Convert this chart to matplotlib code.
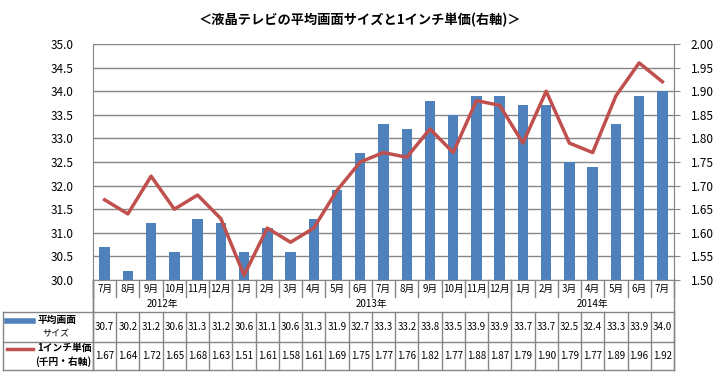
import numpy as np
import matplotlib.pyplot as plt
import matplotlib.transforms as mtransforms
from matplotlib.lines import Line2D

plt.rcParams['font.family'] = ['Noto Sans CJK JP', 'DejaVu Sans']

# dados
meses = ['7月', '8月', '9月', '10月', '11月', '12月',
         '1月', '2月', '3月', '4月', '5月', '6月', '7月', '8月', '9月', '10月', '11月', '12月',
         '1月', '2月', '3月', '4月', '5月', '6月', '7月']
anos = ['2012年', '2013年', '2014年']
meses_por_ano = [6, 12, 7]
tamanho = [30.7, 30.2, 31.2, 30.6, 31.3, 31.2, 30.6, 31.1, 30.6, 31.3, 31.9, 32.7,
           33.3, 33.2, 33.8, 33.5, 33.9, 33.9, 33.7, 33.7, 32.5, 32.4, 33.3, 33.9, 34.0]
preco = [1.67, 1.64, 1.72, 1.65, 1.68, 1.63, 1.51, 1.61, 1.58, 1.61, 1.69, 1.75,
         1.77, 1.76, 1.82, 1.77, 1.88, 1.87, 1.79, 1.90, 1.79, 1.77, 1.89, 1.96, 1.92]

azul = '#4F81BD'
vermelho = '#C0504D'
cinza = '#868686'

fig = plt.figure(figsize=(7.2, 3.88), dpi=100)
W, H = 720, 388
x0, x1, ytop, ybot = 93, 674, 44, 280
ax = fig.add_axes([x0 / W, (H - ybot) / H, (x1 - x0) / W, (ybot - ytop) / H])

x = np.arange(len(meses))
ax.bar(x, tamanho, width=0.45, color=azul, zorder=3)
ax.set_xlim(-0.5, len(meses) - 0.5)
ax.set_ylim(30.0, 35.0)
ax.set_yticks(np.arange(30.0, 35.01, 0.5))
ax.set_yticklabels([f'{v:.1f}' for v in np.arange(30.0, 35.01, 0.5)], fontsize=8.5)
ax.yaxis.grid(True, color=cinza, linewidth=1)
ax.set_axisbelow(True)
ax.set_xticks([])
ax.tick_params(axis='y', length=0, pad=14)
for s in ['top']:
    ax.spines[s].set_visible(False)
ax.spines['left'].set_color(cinza)
ax.spines['right'].set_color(cinza)
ax.spines['bottom'].set_color(cinza)

ax2 = ax.twinx()
ax2.plot(x, preco, color=vermelho, linewidth=2.5, zorder=4)
ax2.set_ylim(1.5, 2.0)
ax2.set_yticks(np.arange(1.5, 2.001, 0.05))
ax2.set_yticklabels([f'{v:.2f}' for v in np.arange(1.5, 2.001, 0.05)], fontsize=8.5)
ax2.tick_params(axis='y', length=4, color=cinza, pad=8)
for s in ['top', 'left', 'bottom']:
    ax2.spines[s].set_visible(False)
ax2.spines['right'].set_color(cinza)

# tabela abaixo do gráfico (x em dados, y em coordenadas do eixo)
trans = mtransforms.blended_transform_factory(ax.transData, ax.transAxes)
alt = ybot - ytop
def yy(py):
    return -(py - ybot) / alt

lk = dict(color=cinza, linewidth=1, transform=trans, clip_on=False)
# meses
for i, m in enumerate(meses):
    ax.text(i, yy(289), m, transform=trans, ha='center', va='center', fontsize=7)
for i in range(len(meses) + 1):
    ax.add_line(Line2D([i - 0.5, i - 0.5], [0, yy(297)], **lk))
# anos
ini = 0
for a, n in zip(anos, meses_por_ano):
    ax.text(ini + (n - 1) / 2, yy(304), a, transform=trans, ha='center', va='center', fontsize=7)
    ax.add_line(Line2D([ini - 0.5, ini - 0.5], [0, yy(312)], **lk))
    ini += n
ax.add_line(Line2D([ini - 0.5, ini - 0.5], [0, yy(370)], **lk))
ax.add_line(Line2D([-0.5, -0.5], [0, yy(370)], **lk))

# linhas da tabela
xesq = -0.5 - (x0 - 3) / ((x1 - x0) / len(meses))
for py in [312, 342, 370]:
    ax.add_line(Line2D([xesq, len(meses) - 0.5], [yy(py), yy(py)], **lk))
ax.add_line(Line2D([xesq, xesq], [yy(312), yy(370)], **lk))
for i in range(len(meses) + 1):
    ax.add_line(Line2D([i - 0.5, i - 0.5], [yy(312), yy(370)], **lk))

for i in range(len(meses)):
    ax.text(i, yy(327), f'{tamanho[i]:.1f}', transform=trans, ha='center', va='center', fontsize=7)
    ax.text(i, yy(356), f'{preco[i]:.2f}', transform=trans, ha='center', va='center', fontsize=7)

# legenda da tabela
cel = (x1 - x0) / len(meses)
def xx(px):
    return -0.5 + (px - x0) / cel
ax.add_line(Line2D([xx(7), xx(33)], [yy(321), yy(321)], color=azul, linewidth=4,
                   transform=trans, clip_on=False))
ax.add_line(Line2D([xx(7), xx(33)], [yy(349), yy(349)], color=vermelho, linewidth=2.5,
                   transform=trans, clip_on=False))
ax.text(xx(37), yy(320), '平均画面', transform=trans, ha='left', va='center', fontsize=7, fontweight='bold')
ax.text(xx(42), yy(334), 'サイズ', transform=trans, ha='left', va='center', fontsize=6.5)
ax.text(xx(37), yy(348), '1インチ単価', transform=trans, ha='left', va='center', fontsize=7, fontweight='bold')
ax.text(xx(35), yy(362), '(千円・右軸)', transform=trans, ha='left', va='center', fontsize=7, fontweight='bold')

fig.text(0.5, (H - 20) / H, '＜液晶テレビの平均画面サイズと1インチ単価(右軸)＞',
         ha='center', va='center', fontsize=9.5, fontweight='bold')

plt.savefig('out.png', dpi=100)
